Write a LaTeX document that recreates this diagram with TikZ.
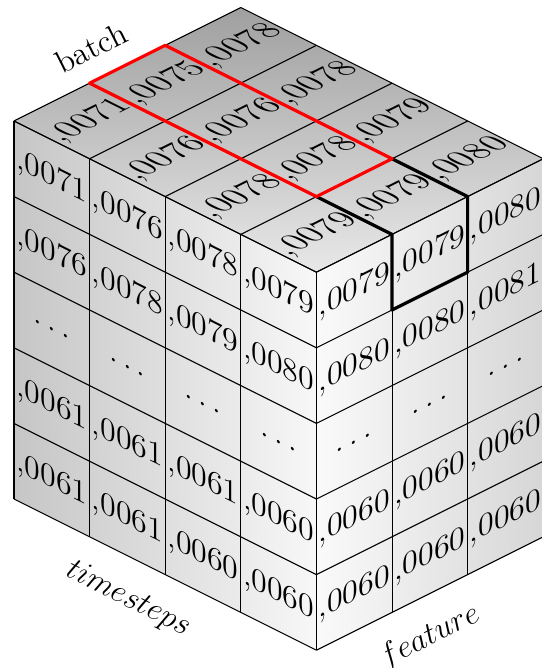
\documentclass[tikz,border=0pt]{standalone}
\usetikzlibrary{calc}
\tikzset{
  cell/.style = {transform shape, inner sep=0pt, font=\fontsize{12}{14}\selectfont},
  gridline/.style = {thin, black},
  axislabel/.style = {inner sep=0pt, font=\fontsize{12}{14}\selectfont},
  redbox/.style = {draw=red, very thick, line join=round},
  blackbox/.style = {draw=black, very thick, line join=round}
}

\begin{document}
\begin{tikzpicture}[x={(1cm,-0.5cm)}, y={(1cm,0.5cm)}, z={(0cm,1cm)}]
\useasboundingbox (-0.185cm,-7.235cm) rectangle (6.98cm,1.6cm);

% Face shading
\shade[left color=gray!45, right color=gray!6] (0,0,0) -- (4,0,0) -- (4,0,-5) -- (0,0,-5) -- cycle;
\shade[left color=gray!4, right color=gray!32] (4,0,0) -- (4,3,0) -- (4,3,-5) -- (4,0,-5) -- cycle;
\shade[top color=gray!75, bottom color=gray!18] (0,0,0) -- (0,3,0) -- (4,3,0) -- (4,0,0) -- cycle;

% Grid: timesteps face
\foreach \i in {0,...,4} \draw[gridline] (\i,0,0) -- (\i,0,-5);
\foreach \k in {0,...,5} \draw[gridline] (0,0,-\k) -- (4,0,-\k);
% Grid: feature face
\foreach \j in {0,...,3} \draw[gridline] (4,\j,0) -- (4,\j,-5);
\foreach \k in {0,...,5} \draw[gridline] (4,0,-\k) -- (4,3,-\k);
% Grid: top face
\foreach \i in {0,...,4} \draw[gridline] (\i,0,0) -- (\i,3,0);
\foreach \j in {0,...,3} \draw[gridline] (0,\j,0) -- (4,\j,0);

% Values on the timesteps face
\begin{scope}[x={(1cm,0cm)}, y={(0cm,1cm)}, cm={1,-0.5,0,1,(0cm,0cm)}]
  \foreach \row [count=\r from 0] in {
      {{,0071},{,0076},{,0078},{,0079}},
      {{,0076},{,0078},{,0079},{,0080}},
      {{$\ldots$},{$\ldots$},{$\ldots$},{$\ldots$}},
      {{,0061},{,0061},{,0061},{,0060}},
      {{,0061},{,0061},{,0060},{,0060}}}
    \foreach \val [count=\c from 0] in \row
      \node[cell] (left-\r-\c) at (\c+0.5,-\r-0.5) {\val};
\end{scope}

% Values on the feature face
\begin{scope}[x={(1cm,0cm)}, y={(0cm,1cm)}, cm={1,0.5,0,1,(4cm,-2cm)}]
  \foreach \row [count=\r from 0] in {
      {{,0079},{,0079},{,0080}},
      {{,0080},{,0080},{,0081}},
      {{$\ldots$},{$\ldots$},{$\ldots$}},
      {{,0060},{,0060},{,0060}},
      {{,0060},{,0060},{,0060}}}
    \foreach \val [count=\c from 0] in \row
      \node[cell] (right-\r-\c) at (\c+0.5,-\r-0.5) {\val};
\end{scope}

% Values on the top face
\begin{scope}[x={(1cm,0cm)}, y={(0cm,1cm)}, cm={1,0.5,-1,0.5,(0cm,0cm)}]
  \foreach \row [count=\r from 0] in {
      {{,0071},{,0075},{,0078}},
      {{,0076},{,0076},{,0078}},
      {{,0078},{,0078},{,0079}},
      {{,0079},{,0079},{,0080}}}
    \foreach \val [count=\c from 0] in \row
      \node[cell] (top-\r-\c) at (\c+0.5,-\r-0.5) {\val};
\end{scope}

% Highlighted slices
\draw[blackbox] (3,2,0) -- (4,2,0) -- (4,2,-1) -- (4,1,-1) -- (4,1,0) -- (3,1,0);
\draw[redbox] (0,1,0) -- (0,2,0) -- (3,2,0) -- (3,1,0) -- cycle;

% Axis labels
\node[axislabel, rotate=26.57] (batch) at (-0.46,1.48,0) {batch};
\node[axislabel, rotate=-26.57] (timesteps) at (2.08,-0.57,-5) {$timesteps$};
\node[axislabel, rotate=26.57] (feature) at (4,1.5,-5.57) {$feature$};

\end{tikzpicture}
\end{document}
